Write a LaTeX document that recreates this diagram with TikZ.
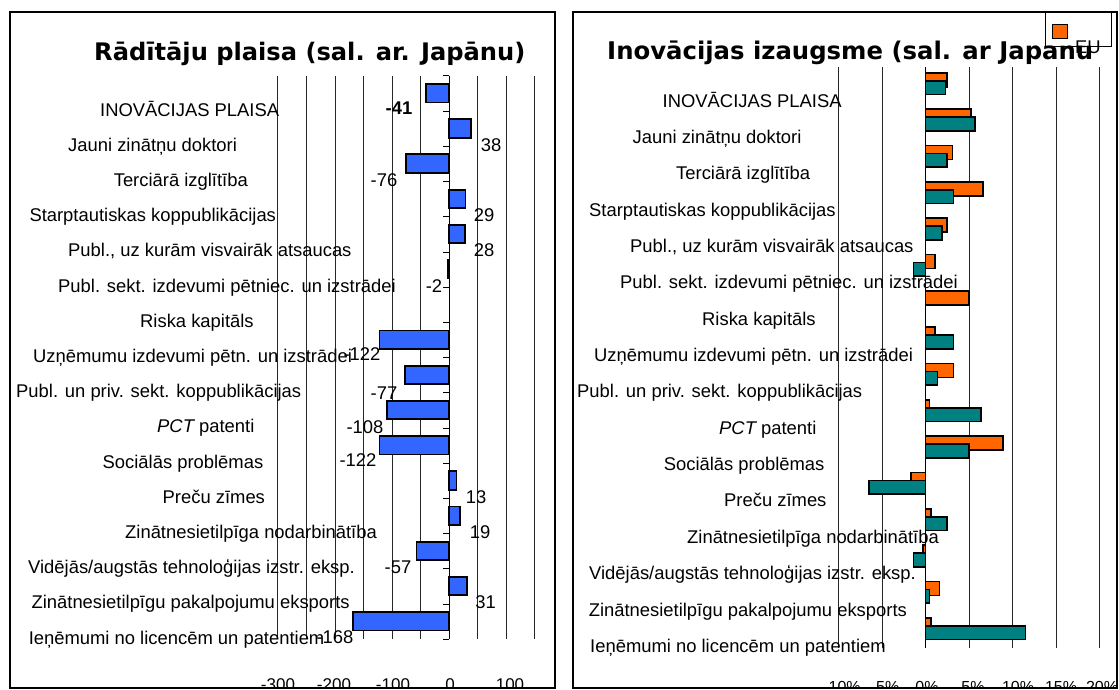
\documentclass[tikz,border=0pt]{standalone}
\usepackage{fontspec}
\usepackage{graphicx}
\setmainfont{Liberation Sans}
\newfontfamily\titlefont{DejaVu Sans}
\definecolor{lblue}{RGB}{51,102,255}
\definecolor{eorange}{RGB}{255,102,0}
\definecolor{jteal}{RGB}{0,128,128}
\tikzset{
  frame/.style={draw=black,line width=1.3pt},
  gline/.style={draw=black!85,line width=0.8pt},
  axline/.style={draw=black,line width=1pt},
  lbar/.style={draw=black,fill=lblue,line width=1.8pt},
  obar/.style={draw=black,fill=eorange,line width=1.6pt},
  tbar/.style={draw=black,fill=jteal,line width=1.6pt},
  cat/.style={anchor=base west,inner sep=0pt,font=\fontsize{18.4}{22}\selectfont},
  val/.style={anchor=base,inner sep=0pt,font=\fontsize{18.4}{22}\selectfont},
  axlab/.style={anchor=base,inner sep=0pt,font=\fontsize{17}{20}\selectfont},
  paxlab/.style={anchor=base,inner sep=0pt,font=\fontsize{16}{19}\selectfont},
  ttl/.style={anchor=base west,inner sep=0pt}
}
\begin{document}
\begin{tikzpicture}[x=1pt,y=-1pt]
\useasboundingbox (0,0) rectangle (1119,690);
\fill[white] (0,0) rectangle (1119,690);

% ================= LEFT CHART =================
\draw[frame] (10,12) rectangle (555,688);
\node[ttl] (ltitle) at (94,61) {\resizebox{431pt}{!}{\titlefont\bfseries Rādītāju plaisa (sal. ar. Japānu)}};
\foreach \v in {-300,-250,-200,-150,-100,-50,50,100,150}
  \draw[gline] ({449+0.5705*\v},76) -- ({449+0.5705*\v},639);
\foreach \i/\v in {0/-41,1/38,2/-76,3/29,4/28,5/-2,7/-122,8/-77,9/-108,10/-122,11/13,12/19,13/-57,14/31,15/-168}
  \draw[lbar] (449,{76+35.2*\i+8}) rectangle ({449+0.5705*\v},{76+35.2*\i+26.5});
\draw[axline] (449,76) -- (449,639);
\foreach \i in {0,...,16}
  \draw[axline] (443,{76+35.2*\i}) -- (449,{76+35.2*\i});

\node[cat] (l0) at (100,{109.5+6.6}) {INOVĀCIJAS PLAISA};
\node[cat] (l1) at (68,{109.5+35.2+6.6}) {Jauni zinātņu doktori};
\node[cat] (l2) at (113.6,{109.5+35.2*2+6.6}) {Terciārā izglītība};
\node[cat] (l3) at (29.3,{109.5+35.2*3+6.6}) {Starptautiskas koppublikācijas};
\node[cat] (l4) at (68,{109.5+35.2*4+6.6}) {Publ., uz kurām visvairāk atsaucas};
\node[cat] (l5) at (58,{109.5+35.2*5+6.6}) {Publ. sekt. izdevumi pētniec. un izstrādei};
\node[cat] (l6) at (140,{109.5+35.2*6+6.6}) {Riska kapitāls};
\node[cat] (l7) at (33,{109.5+35.2*7+6.6}) {Uzņēmumu izdevumi pētn. un izstrādei};
\node[cat] (l8) at (16,{109.5+35.2*8+6.6}) {Publ. un priv. sekt. koppublikācijas};
\node[cat] (l9) at (157,{109.5+35.2*9+6.6}) {\itshape PCT\upshape{} patenti};
\node[cat] (l10) at (102.5,{109.5+35.2*10+6.6}) {Sociālās problēmas};
\node[cat] (l11) at (162.5,{109.5+35.2*11+6.6}) {Preču zīmes};
\node[cat] (l12) at (125,{109.5+35.2*12+6.6}) {Zinātnesietilpīga nodarbinātība};
\node[cat] (l13) at (28,{109.5+35.2*13+6.6}) {Vidējās/augstās tehnoloģijas izstr. eksp.};
\node[cat] (l14) at (31.4,{109.5+35.2*14+6.6}) {Zinātnesietilpīgu pakalpojumu eksports};
\node[cat] (l15) at (28.6,{109.5+35.2*15+6.6}) {Ieņēmumi no licencēm un patentiem};

\node[val] (v0) at (399,{108.3+6.6}) {\bfseries -41};
\node[val] (v1) at (491,{145+6.6}) {38};
\node[val] (v2) at (384,{180+6.6}) {-76};
\node[val] (v3) at (484,{215+6.6}) {29};
\node[val] (v4) at (484,{250+6.6}) {28};
\node[val] (v5) at (434,{286+6.6}) {-2};
\node[val] (v7) at (362,{354.3+6.6}) {-122};
\node[val] (v8) at (384,{392.7+6.6}) {-77};
\node[val] (v9) at (365,{426.7+6.6}) {-108};
\node[val] (v10) at (358,{460+6.6}) {-122};
\node[val] (v11) at (476,{496.7+6.6}) {13};
\node[val] (v12) at (480,{531.7+6.6}) {19};
\node[val] (v13) at (398,{566.7+6.6}) {-57};
\node[val] (v14) at (485.6,{601.7+6.6}) {31};
\node[val] (v15) at (335,{636.7+6.6}) {-168};

\begin{scope}
  \clip (10,12) rectangle (555,688);
  \node[axlab] (la1) at (278,690.5) {-300};
  \node[axlab] (la2) at (334,690.5) {-200};
  \node[axlab] (la3) at (393,690.5) {-100};
  \node[axlab] (la4) at (450,690.5) {0};
  \node[axlab] (la5) at (510,690.5) {100};
\end{scope}
\draw[frame] (10,12) rectangle (555,688);

% ================= RIGHT CHART =================
\draw[frame] (573,12) rectangle (1117,688);
\node[ttl] (rtitle) at (607,60) {\resizebox{486pt}{!}{\titlefont\bfseries Inovācijas izaugsme (sal. ar Japanu}};
\foreach \v in {-10,-5,5,10,15,20}
  \draw[gline] ({925.5+8.7*\v},67) -- ({925.5+8.7*\v},648);
\foreach \i/\v in {0/2.5,1/5.2,2/3.1,3/6.6,4/2.5,5/1.1,6/5.0,7/1.1,8/3.2,9/0.45,10/8.9,11/-1.7,12/0.6,13/-0.3,14/1.6,15/0.6}
  \draw[obar] (925.5,{67+36.33*\i+5.8}) rectangle ({925.5+8.7*\v},{67+36.33*\i+19.8});
\foreach \i/\v in {0/2.3,1/5.7,2/2.5,3/3.2,4/1.9,5/-1.4,7/3.2,8/1.4,9/6.4,10/5.0,11/-6.5,12/2.5,13/-1.4,14/0.45,15/11.5}
  \draw[tbar] (925.5,{67+36.33*\i+13.8}) rectangle ({925.5+8.7*\v},{67+36.33*\i+27.5});
\draw[axline] (925.5,67) -- (925.5,648);

\node[cat] (r0) at (662.5,{100.5+6.6}) {INOVĀCIJAS PLAISA};
\node[cat] (r1) at (632.5,{100.5+36.35+6.6}) {Jauni zinātņu doktori};
\node[cat] (r2) at (676,{100.5+36.35*2+6.6}) {Terciārā izglītība};
\node[cat] (r3) at (589,{100.5+36.35*3+6.6}) {Starptautiskas koppublikācijas};
\node[cat] (r4) at (630,{100.5+36.35*4+6.6}) {Publ., uz kurām visvairāk atsaucas};
\node[cat] (r5) at (620,{100.5+36.35*5+6.6}) {Publ. sekt. izdevumi pētniec. un izstrādei};
\node[cat] (r6) at (702,{100.5+36.35*6+6.6}) {Riska kapitāls};
\node[cat] (r7) at (594,{100.5+36.35*7+6.6}) {Uzņēmumu izdevumi pētn. un izstrādei};
\node[cat] (r8) at (577,{100.5+36.35*8+6.6}) {Publ. un priv. sekt. koppublikācijas};
\node[cat] (r9) at (719,{100.5+36.35*9+6.6}) {\itshape PCT\upshape{} patenti};
\node[cat] (r10) at (663.6,{100.5+36.35*10+6.6}) {Sociālās problēmas};
\node[cat] (r11) at (724,{100.5+36.35*11+6.6}) {Preču zīmes};
\node[cat] (r12) at (687,{100.5+36.35*12+6.6}) {Zinātnesietilpīga nodarbinātība};
\node[cat] (r13) at (589,{100.5+36.35*13+6.6}) {Vidējās/augstās tehnoloģijas izstr. eksp.};
\node[cat] (r14) at (588.6,{100.5+36.35*14+6.6}) {Zinātnesietilpīgu pakalpojumu eksports};
\node[cat] (r15) at (590,{100.5+36.35*15+6.6}) {Ieņēmumi no licencēm un patentiem};

\begin{scope}
  \clip (573,12) rectangle (1117,688);
  \node[paxlab] (ra1) at (842,692) {-10\%};
  \node[paxlab] (ra2) at (885,692) {-5\%};
  \node[paxlab] (ra3) at (927,692) {0\%};
  \node[paxlab] (ra4) at (973,692) {5\%};
  \node[paxlab] (ra5) at (1018,692) {10\%};
  \node[paxlab] (ra6) at (1061,692) {15\%};
  \node[paxlab] (ra7) at (1102,692) {20\%};
\end{scope}

% legend
\draw[draw=black,line width=0.8pt] (1045.3,12.7) rectangle (1111.3,46);
\draw[obar,line width=1.3pt] (1052.7,24.3) rectangle (1067.3,38.3);
\node[cat] (eu) at (1075,{46.7+6.6}) {EU};
\draw[frame] (573,12) rectangle (1117,688);
\end{tikzpicture}
\end{document}
